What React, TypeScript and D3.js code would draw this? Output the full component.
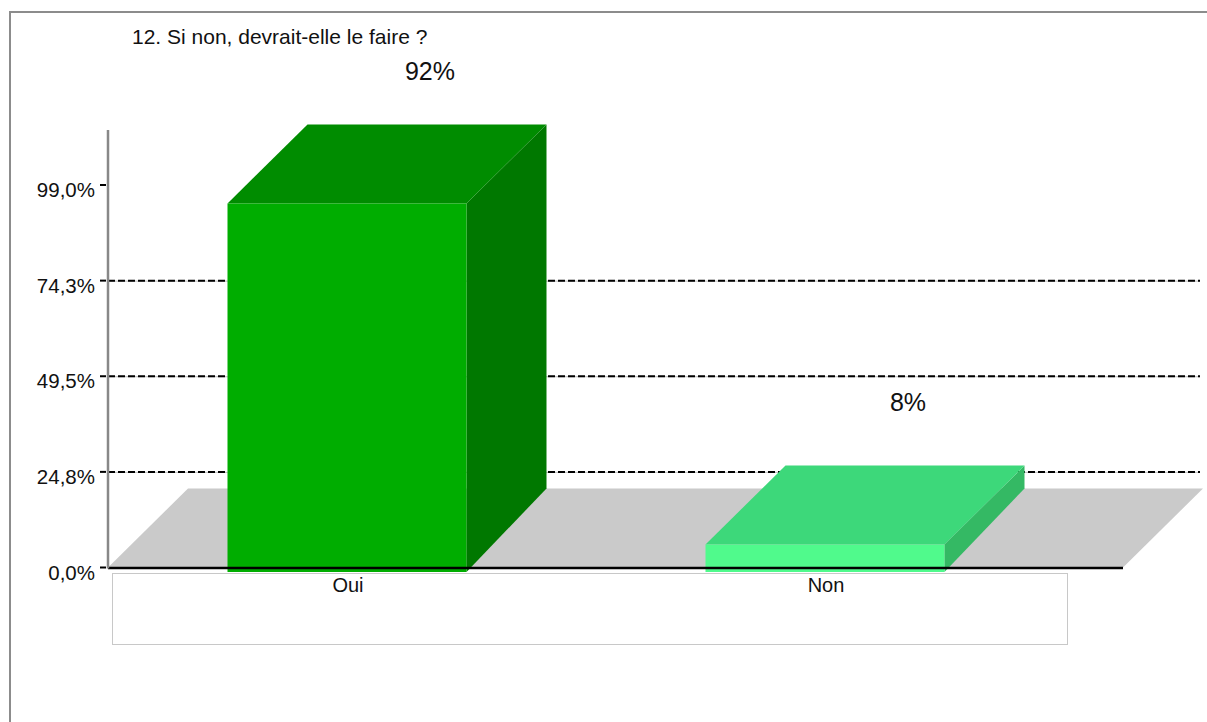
import React from "react";
import * as d3 from "d3";

const title = "12. Si non, devrait-elle le faire ?";
const categories = ["Oui", "Non"];
const values = [92, 8];
const valueLabels = ["92%", "8%"];
const tickValues = [0, 24.75, 49.5, 74.25, 99];
const tickLabels = ["0,0%", "24,8%", "49,5%", "74,3%", "99,0%"];
const gridValues = [24.75, 49.5, 74.25];
const frontColors = ["#00ad00", "#50fa8c"];
const topColors = ["#008c00", "#3dd87a"];
const sideColors = ["#007800", "#34b964"];

const W = 1207;
const H = 722;
const FONT = "'Liberation Sans', Arial, sans-serif";

export default function App() {
  const axisX = 108;
  const baseY = 567.5;
  const depthX = 80;
  const depthY = 79;

  const y = d3.scaleLinear().domain([0, 99]).range([baseY, 185]);
  const yBar = d3.scaleLinear().domain([0, 100]).range([577, 171]);
  const yLabel = d3.scaleLinear().domain([0, 100]).range([442, 49]);
  const x = d3
    .scaleBand<string>()
    .domain(categories)
    .range([108, 1064])
    .paddingInner(0.5)
    .paddingOuter(0.25);
  const bw = x.bandwidth();
  const barBottom = 572;

  const floorPath = d3.path();
  floorPath.moveTo(axisX, baseY);
  floorPath.lineTo(axisX + depthX, baseY - depthY);
  floorPath.lineTo(1203, baseY - depthY);
  floorPath.lineTo(1123, baseY);
  floorPath.closePath();

  return (
    <svg
      width={W}
      height={H}
      style={{ position: "absolute", left: 0, top: 0, background: "#fff" }}
    >
      <path d={`M10,${H} V12 H${W}`} fill="none" stroke="#8c8c8c" strokeWidth={2} />
      <text x={132} y={44} fontFamily={FONT} fontSize={21} fill="#111">
        {title}
      </text>

      <path d={floorPath.toString()} fill="#cacaca" />

      {gridValues.map((v) => (
        <g key={v}>
          <line x1={axisX} x2={1200} y1={y(v) + 0.5} y2={y(v) + 0.5} stroke="#bdbdbd" strokeWidth={1} />
          <line x1={axisX} x2={1200} y1={y(v)} y2={y(v)} stroke="#000" strokeWidth={2} strokeDasharray="7 3" />
        </g>
      ))}

      {categories.map((c, i) => {
        const x0 = x(c) as number;
        const x1 = x0 + bw;
        const top = yBar(values[i]);
        const side = `M${x1},${top} L${x1 + depthX},${top - depthY} L${x1 + depthX},${baseY - depthY} L${x1},${barBottom} Z`;
        const topFace = `M${x0},${top} L${x0 + depthX},${top - depthY} L${x1 + depthX},${top - depthY} L${x1},${top} Z`;
        return (
          <g key={c}>
            <path d={side} fill={sideColors[i]} />
            <path d={topFace} fill={topColors[i]} />
            <rect x={x0} y={top} width={bw} height={barBottom - top} fill={frontColors[i]} />
          </g>
        );
      })}

      <line x1={axisX} x2={1123} y1={baseY + 0.5} y2={baseY + 0.5} stroke="#000" strokeWidth={2.5} />
      <line x1={axisX} x2={axisX} y1={130} y2={baseY + 1} stroke="#888" strokeWidth={2.5} />

      {tickValues.map((v, i) => (
        <g key={v}>
          <line x1={100} x2={106} y1={y(v)} y2={y(v)} stroke="#000" strokeWidth={2} />
          <text
            x={95}
            y={y(v) + 12}
            textAnchor="end"
            fontFamily={FONT}
            fontSize={20.5}
            fill="#111"
          >
            {tickLabels[i]}
          </text>
        </g>
      ))}

      <rect x={112.5} y={573.5} width={955} height={71} fill="#fff" stroke="#c8c8c8" strokeWidth={1} />

      {categories.map((c) => (
        <text
          key={c}
          x={(x(c) as number) + bw / 2 + 1}
          y={592}
          textAnchor="middle"
          fontFamily={FONT}
          fontSize={20}
          fill="#111"
        >
          {c}
        </text>
      ))}

      {categories.map((c, i) => (
        <text
          key={c + "v"}
          x={(x(c) as number) + bw / 2 + depthX + 3}
          y={yLabel(values[i])}
          textAnchor="middle"
          fontFamily={FONT}
          fontSize={25}
          fill="#111"
        >
          {valueLabels[i]}
        </text>
      ))}
    </svg>
  );
}
